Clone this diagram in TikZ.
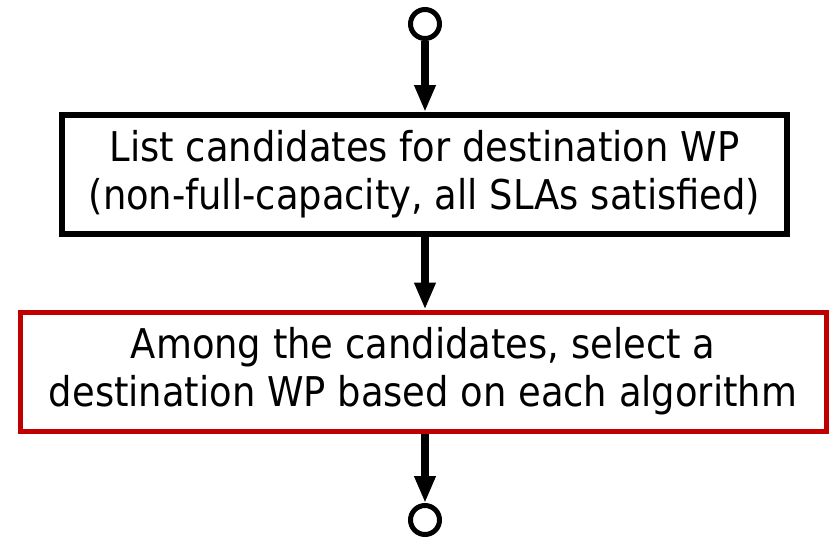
\documentclass[tikz,border=0pt]{standalone}
\usepackage{fontspec}
\setmainfont{DejaVu Sans Condensed}
\usetikzlibrary{arrows.meta}
\definecolor{boxred}{HTML}{C00000}
\begin{document}
\begin{tikzpicture}[x=1pt,y=-1pt,
  flowbox/.style={draw, rectangle, align=center, inner sep=0pt,
    font=\fontsize{41pt}{48pt}\selectfont},
  term/.style={draw, circle, line width=5pt, minimum size=29pt, inner sep=0pt},
  flow/.style={line width=8pt, -{Triangle[length=27pt,width=20pt]}}]
\useasboundingbox (0,0) rectangle (829,538);
\node[term] (start) at (425,24) {};
\node[flowbox, line width=6pt, minimum width=725pt, minimum height=119pt] (list) at (424.5,174.5)
  {List candidates for destination WP\\(non-full-capacity, all SLAs satisfied)};
\node[flowbox, draw=boxred, line width=5pt, minimum width=806pt, minimum height=119pt] (select) at (423,371.5)
  {Among the candidates, select a\\destination WP based on each algorithm};
\node[term] (end) at (425,520) {};
\draw[flow] (start.south) -- (start.south |- list.north);
\draw[flow] (start.center |- list.south) -- (start.center |- select.north);
\draw[flow] (start.center |- select.south) -- (end.north);
\end{tikzpicture}
\end{document}
